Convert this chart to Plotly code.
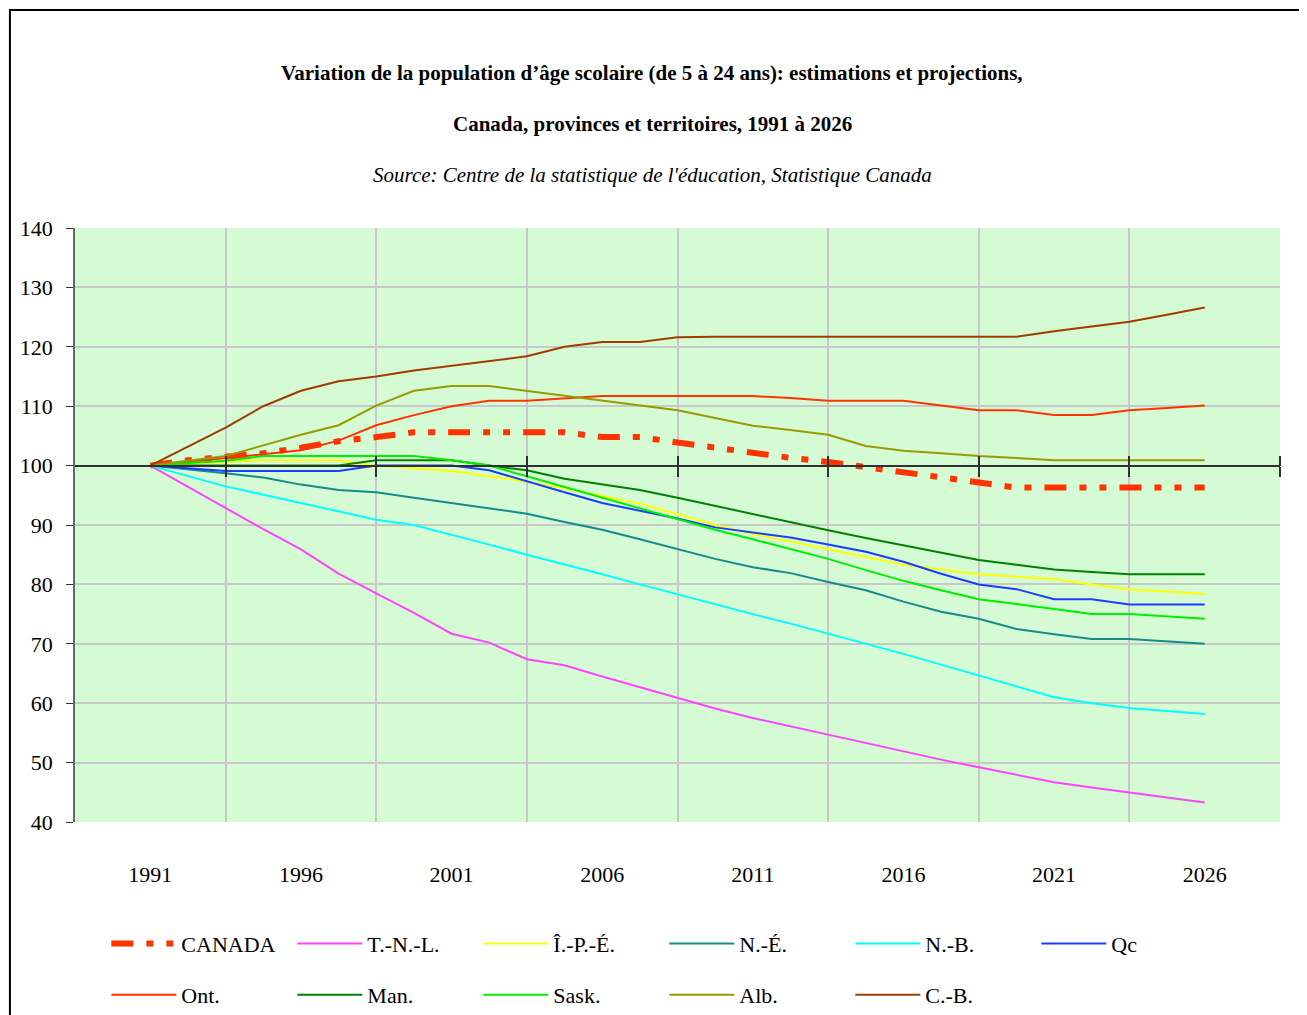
import plotly.graph_objects as go

# 29 points de données, étiquetés tous les 4 points
idx = list(range(29))
tick_pos = [0, 4, 8, 12, 16, 20, 24, 28]
annees = ['1991', '1996', '2001', '2006', '2011', '2016', '2021', '2026']
grid_pos = [2, 6, 10, 14, 18, 22, 26, 30]

canada = [100, 100.9, 101.5, 102.1, 103.0, 104.1, 104.8, 105.6, 105.6, 105.6, 105.6, 105.6, 104.8, 104.8,
          103.9, 103.0, 102.3, 101.3, 100.6, 99.7, 98.9, 98.1, 97.2, 96.3, 96.3, 96.3, 96.3, 96.3, 96.3]
tnl = [100, 96.4, 92.9, 89.3, 85.9, 81.8, 78.5, 75.2, 71.7, 70.2, 67.4, 66.4, 64.5, 62.7, 60.9, 59.1,
       57.5, 56.1, 54.7, 53.3, 51.8, 50.5, 49.2, 47.9, 46.7, 45.8, 45.0, 44.1, 43.3]
ipe = [100, 100.3, 100.6, 100.9, 100.9, 100.9, 100.0, 99.6, 99.1, 98.2, 97.3, 96.2, 94.9, 93.6, 91.8,
       90.0, 88.5, 87.2, 85.9, 84.6, 83.3, 82.5, 81.7, 81.3, 80.9, 80.0, 79.2, 78.8, 78.4]
ne = [100, 99.4, 98.7, 98.0, 96.8, 95.9, 95.5, 94.6, 93.7, 92.8, 91.9, 90.5, 89.2, 87.6, 86.0, 84.3,
      82.9, 81.9, 80.4, 79.0, 77.1, 75.4, 74.2, 72.5, 71.6, 70.8, 70.8, 70.4, 70.0]
nb = [100, 98.2, 96.5, 95.1, 93.7, 92.3, 90.9, 90.0, 88.4, 86.7, 85.0, 83.4, 81.7, 80.0, 78.3, 76.7,
      75.0, 73.4, 71.7, 70.1, 68.3, 66.5, 64.7, 62.9, 61.0, 60.0, 59.2, 58.7, 58.2]
qc = [100, 99.5, 99.1, 99.1, 99.1, 99.1, 100.0, 100.0, 100.0, 99.2, 97.3, 95.5, 93.7, 92.4, 91.1,
      89.6, 88.8, 87.9, 86.7, 85.5, 83.8, 81.8, 80.0, 79.2, 77.5, 77.5, 76.6, 76.6, 76.6]
ont = [100, 100.6, 101.2, 101.9, 102.6, 104.2, 106.8, 108.5, 110.0, 110.9, 110.9, 111.3, 111.7, 111.7,
       111.7, 111.7, 111.7, 111.4, 110.9, 110.9, 110.9, 110.1, 109.3, 109.3, 108.5, 108.5, 109.3, 109.7, 110.1]
man = [100, 100, 100, 100, 100, 100, 100.9, 100.9, 100.9, 100.0, 99.2, 97.8, 96.9, 95.9, 94.6, 93.2,
       91.8, 90.4, 89.1, 87.8, 86.6, 85.4, 84.1, 83.3, 82.5, 82.1, 81.7, 81.7, 81.7]
sask = [100, 100.4, 100.8, 101.6, 101.6, 101.6, 101.6, 101.6, 100.9, 100.0, 98.2, 96.4, 94.6, 92.8,
        91.0, 89.2, 87.6, 86.0, 84.3, 82.4, 80.6, 79.0, 77.5, 76.7, 75.9, 75.0, 75.0, 74.6, 74.2]
alb = [100, 100.8, 101.6, 103.4, 105.2, 106.8, 110.1, 112.6, 113.4, 113.4, 112.6, 111.7, 110.9, 110.2,
       109.3, 108.0, 106.7, 106.0, 105.2, 103.3, 102.5, 102.1, 101.6, 101.3, 100.9, 100.9, 100.9, 100.9, 100.9]
cb = [100, 103.2, 106.4, 110.0, 112.6, 114.2, 115.0, 116.0, 116.8, 117.6, 118.4, 120.0, 120.8, 120.8,
      121.6, 121.7, 121.7, 121.7, 121.7, 121.7, 121.7, 121.7, 121.7, 121.7, 122.6, 123.4, 124.2, 125.4, 126.6]

FONT = 'Liberation Serif'

series = [
    ('CANADA', canada, '#FF3300', 'legend'),
    ('T.-N.-L.', tnl, '#FF44FF', 'legend'),
    ('Î.-P.-É.', ipe, '#FFFF00', 'legend'),
    ('N.-É.', ne, '#148C8C', 'legend'),
    ('N.-B.', nb, '#00FFFF', 'legend'),
    ('Qc', qc, '#1E3CFF', 'legend'),
    ('Ont.', ont, '#FF3300', 'legend2'),
    ('Man.', man, '#008000', 'legend2'),
    ('Sask.', sask, '#00EE00', 'legend2'),
    ('Alb.', alb, '#999900', 'legend2'),
    ('C.-B.', cb, '#A03C00', 'legend2'),
]

fig = go.Figure()

# traces vides : elles ne servent qu'à faire dessiner les axes x2 / x3 (ligne à 100, quadrillage)
for ax in ['x2', 'x3']:
    fig.add_trace(go.Scatter(x=[], y=[], xaxis=ax, showlegend=False, hoverinfo='skip'))

for nom, vals, coul, leg in series:
    if nom == 'CANADA':
        ligne = dict(color=coul, width=6, dash='22px,13px,7px,13px,7px,13px')
    else:
        ligne = dict(color=coul, width=2)
    fig.add_trace(go.Scatter(x=idx, y=vals, name=nom, mode='lines', line=ligne, legend=leg))

leg_common = dict(orientation='h', entrywidth=106, entrywidthmode='pixels', itemwidth=65,
                  font=dict(family=FONT, size=22, color='black'), bgcolor='rgba(0,0,0,0)',
                  xanchor='left', yanchor='middle')

fig.update_layout(
    width=1307, height=1015,
    margin=dict(l=67, r=35, t=220, b=201, autoexpand=False),
    paper_bgcolor='white',
    plot_bgcolor='#D4FBD4',
    font=dict(family=FONT, size=22, color='black'),
    showlegend=True,
    legend=dict(x=0.026, y=-0.205, **leg_common),
    legend2=dict(x=0.026, y=-0.291, **leg_common),
    xaxis=dict(range=[-2, 30], tickmode='array', tickvals=tick_pos, ticktext=annees,
               showgrid=False, zeroline=False, ticks='', ticklabelstandoff=37,
               tickfont=dict(family=FONT, size=22)),
    xaxis2=dict(overlaying='x', anchor='free', position=0.6, range=[-2, 30],
                tickmode='array', tickvals=grid_pos, showticklabels=False,
                showgrid=True, gridcolor='#C8C8C8', gridwidth=1.5,
                showline=True, linecolor='#303030', linewidth=2,
                ticks='outside', ticklen=10, tickcolor='#303030', tickwidth=1.5, zeroline=False),
    xaxis3=dict(overlaying='x', anchor='free', position=0.6, side='top', range=[-2, 30],
                tickmode='array', tickvals=grid_pos, showticklabels=False, showgrid=False,
                ticks='outside', ticklen=10, tickcolor='#303030', tickwidth=1.5, zeroline=False),
    yaxis=dict(range=[40, 140], tickmode='array', tickvals=list(range(40, 141, 10)),
               showgrid=True, gridcolor='#C8C8C8', gridwidth=1.5, zeroline=False,
               showline=True, linecolor='#607060', linewidth=1.5,
               ticks='outside', ticklen=7, tickcolor='#303030', ticklabelstandoff=9,
               tickfont=dict(family=FONT, size=22)),
)

titres = [
    ('<b>Variation de la population d\u2019âge scolaire (de 5 à 24 ans): estimations et projections,</b>', 1.261),
    ('<b>Canada, provinces et territoires, 1991 à 2026</b>', 1.175),
    ('<i>Source: Centre de la statistique de l\'éducation, Statistique Canada</i>', 1.089),
]
for txt, yy in titres:
    fig.add_annotation(text=txt, xref='paper', yref='paper', x=0.479, y=yy,
                       xanchor='center', yanchor='middle', showarrow=False,
                       font=dict(family=FONT, size=21, color='black'))

# cadre extérieur du graphique
fig.add_shape(type='rect', xref='paper', yref='paper', x0=-0.054, x1=1.0207, y0=-0.45, y1=1.367,
              line=dict(color='black', width=2), fillcolor='rgba(0,0,0,0)', layer='below')

fig.write_html('out.html')
